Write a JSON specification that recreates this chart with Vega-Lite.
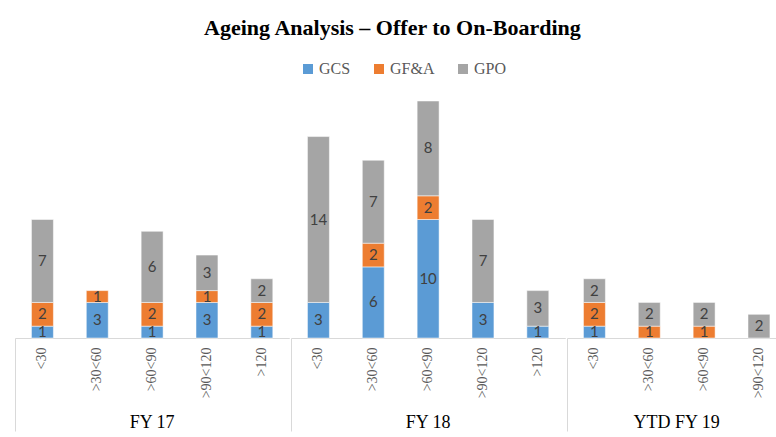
{
  "$schema": "https://vega.github.io/schema/vega-lite/v6.json",
  "background": "white",
  "padding": {"left": 14, "top": 17, "right": 0, "bottom": 0},
  "title": {"text": "Ageing Analysis – Offer to On-Boarding", "font": "Liberation Serif", "fontSize": 22, "fontWeight": "bold", "color": "#000000", "anchor": "middle", "offset": 21, "dx": -8},
  "data": {"values": [
    {"group": "FY 17", "cat": "<30", "series": "GCS", "value": 1},
    {"group": "FY 17", "cat": "<30", "series": "GF&A", "value": 2},
    {"group": "FY 17", "cat": "<30", "series": "GPO", "value": 7},
    {"group": "FY 17", "cat": ">30<60", "series": "GCS", "value": 3},
    {"group": "FY 17", "cat": ">30<60", "series": "GF&A", "value": 1},
    {"group": "FY 17", "cat": ">60<90", "series": "GCS", "value": 1},
    {"group": "FY 17", "cat": ">60<90", "series": "GF&A", "value": 2},
    {"group": "FY 17", "cat": ">60<90", "series": "GPO", "value": 6},
    {"group": "FY 17", "cat": ">90<120", "series": "GCS", "value": 3},
    {"group": "FY 17", "cat": ">90<120", "series": "GF&A", "value": 1},
    {"group": "FY 17", "cat": ">90<120", "series": "GPO", "value": 3},
    {"group": "FY 17", "cat": ">120", "series": "GCS", "value": 1},
    {"group": "FY 17", "cat": ">120", "series": "GF&A", "value": 2},
    {"group": "FY 17", "cat": ">120", "series": "GPO", "value": 2},
    {"group": "FY 18", "cat": "<30", "series": "GCS", "value": 3},
    {"group": "FY 18", "cat": "<30", "series": "GPO", "value": 14},
    {"group": "FY 18", "cat": ">30<60", "series": "GCS", "value": 6},
    {"group": "FY 18", "cat": ">30<60", "series": "GF&A", "value": 2},
    {"group": "FY 18", "cat": ">30<60", "series": "GPO", "value": 7},
    {"group": "FY 18", "cat": ">60<90", "series": "GCS", "value": 10},
    {"group": "FY 18", "cat": ">60<90", "series": "GF&A", "value": 2},
    {"group": "FY 18", "cat": ">60<90", "series": "GPO", "value": 8},
    {"group": "FY 18", "cat": ">90<120", "series": "GCS", "value": 3},
    {"group": "FY 18", "cat": ">90<120", "series": "GPO", "value": 7},
    {"group": "FY 18", "cat": ">120", "series": "GCS", "value": 1},
    {"group": "FY 18", "cat": ">120", "series": "GPO", "value": 3},
    {"group": "YTD FY 19", "cat": "<30", "series": "GCS", "value": 1},
    {"group": "YTD FY 19", "cat": "<30", "series": "GF&A", "value": 2},
    {"group": "YTD FY 19", "cat": "<30", "series": "GPO", "value": 2},
    {"group": "YTD FY 19", "cat": ">30<60", "series": "GF&A", "value": 1},
    {"group": "YTD FY 19", "cat": ">30<60", "series": "GPO", "value": 2},
    {"group": "YTD FY 19", "cat": ">60<90", "series": "GF&A", "value": 1},
    {"group": "YTD FY 19", "cat": ">60<90", "series": "GPO", "value": 2},
    {"group": "YTD FY 19", "cat": ">90<120", "series": "GPO", "value": 2}
  ]},
  "facet": {"column": {"field": "group", "type": "nominal", "sort": ["FY 17", "FY 18", "YTD FY 19"],
    "header": {"title": null, "labelOrient": "bottom", "labelFont": "Liberation Serif", "labelFontSize": 18, "labelColor": "#000000", "labelPadding": -18}}},
  "spacing": 0,
  "resolve": {"scale": {"x": "independent"}},
  "spec": {
    "width": {"step": 54.85},
    "height": 237,
    "layer": [
      {
        "mark": {"type": "bar", "width": {"band": 0.4}, "stroke": "#FFFFFF", "strokeWidth": 0.5},
        "encoding": {
          "x": {"field": "cat", "type": "nominal", "sort": ["<30", ">30<60", ">60<90", ">90<120", ">120"],
            "scale": {"paddingInner": 0, "paddingOuter": 0},
            "axis": {"orient": "bottom", "title": null, "labelAngle": -90, "labelFont": "Liberation Serif", "labelFontSize": 14, "labelColor": "#595959", "ticks": false, "domainColor": "#D9D9D9", "domainWidth": 1, "labelPadding": 9}},
          "y": {"field": "value", "type": "quantitative", "stack": "zero", "scale": {"domain": [0, 20], "nice": false}, "axis": null},
          "color": {"field": "series", "type": "nominal", "scale": {"domain": ["GCS", "GF&A", "GPO"], "range": ["#5B9BD5", "#ED7D31", "#A5A5A5"]},
            "legend": {"orient": "none", "legendX": 285, "legendY": -40, "direction": "horizontal", "title": null, "symbolType": "square", "symbolSize": 100, "symbolStrokeWidth": 0, "labelFont": "Liberation Serif", "labelFontSize": 16, "labelColor": "#595959", "columnPadding": 20, "labelOffset": 3}},
          "order": {"field": "series", "type": "nominal", "sort": "ascending"}
        }
      },
      {
        "transform": [
          {"stack": "value", "groupby": ["group", "cat"], "sort": [{"field": "series"}], "as": ["v0", "v1"]},
          {"fold": ["v0", "v1"], "as": ["k", "edge"]},
          {"aggregate": [{"op": "mean", "field": "edge", "as": "mid"}], "groupby": ["group", "cat", "series", "value"]}
        ],
        "mark": {"type": "text", "font": "Lato", "fontSize": 15, "color": "#404040", "baseline": "middle"},
        "encoding": {
          "x": {"field": "cat", "type": "nominal", "sort": ["<30", ">30<60", ">60<90", ">90<120", ">120"],
            "axis": {"orient": "bottom", "title": null, "labels": false, "domain": false, "values": ["<30"], "bandPosition": 0, "tickSize": 93, "tickColor": "#D9D9D9", "tickWidth": 1}},
          "y": {"field": "mid", "type": "quantitative"},
          "text": {"field": "value", "type": "quantitative"}
        }
      }
    ],
    "resolve": {"axis": {"x": "independent"}}
  },
  "config": {"view": {"stroke": null}}
}
